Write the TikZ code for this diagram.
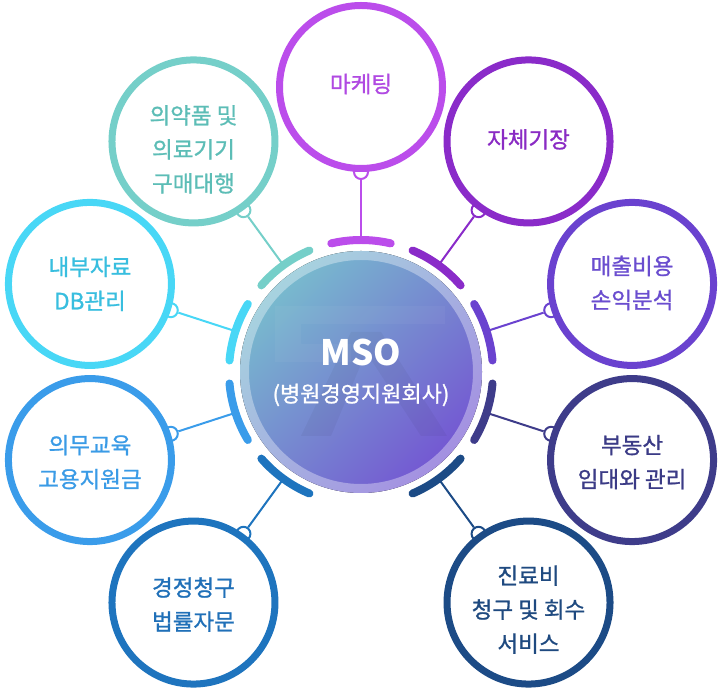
\documentclass[tikz,border=0pt]{standalone}
\usepackage{fontspec}
\newfontfamily\kr[FakeBold=1.0]{Noto Sans CJK KR}
\newfontfamily\krb{Noto Sans CJK KR}
\usetikzlibrary{calc}
\definecolor{cA}{HTML}{BB4DEB}\definecolor{tA}{HTML}{B049E2}
\definecolor{cB}{HTML}{8A2BC9}\definecolor{tB}{HTML}{8A2BC4}
\definecolor{cC}{HTML}{6A42CF}\definecolor{tC}{HTML}{6A4DCF}
\definecolor{cD}{HTML}{3E3C8A}\definecolor{tD}{HTML}{3B3B86}
\definecolor{cE}{HTML}{1C4B86}\definecolor{tE}{HTML}{1F4A80}
\definecolor{cF}{HTML}{1E74BE}\definecolor{tF}{HTML}{2070B8}
\definecolor{cG}{HTML}{3A9CEA}\definecolor{tG}{HTML}{3A9BE6}
\definecolor{cH}{HTML}{48D7F6}\definecolor{tH}{HTML}{38BEDF}
\definecolor{cI}{HTML}{75CFC9}\definecolor{tI}{HTML}{5CBDB6}
\definecolor{dTL}{HTML}{78BCCE}
\definecolor{dBR}{HTML}{7456D2}
\tikzset{
  outercirc/.style={circle, draw, fill=white, line width=7pt, minimum size=163pt, inner sep=0pt},
  lbl/.style={align=center, inner sep=0pt, font=\kr\fontsize{22.5}{34}\selectfont},
  knob/.style={circle, draw, fill=white, line width=2pt, minimum size=14pt, inner sep=0pt},
  link/.style={line width=2pt},
  ringarc/.style={line width=8pt, line cap=round},
}
\begin{document}
\begin{tikzpicture}[x=1pt,y=1pt]
\useasboundingbox (0,0) rectangle (720,693);
\coordinate (C) at (361,321);
\foreach \ang/\col/\tcol/\nm/\txt/\dy in {
  90/cA/tA/m1/{마케팅}/3,
  54/cB/tB/m2/{자체기장}/2,
  18/cC/tC/m3/{매출비용\\손익분석}/1,
  -18/cD/tD/m4/{부동산\\임대와 관리}/-2,
  -54/cE/tE/m5/{진료비\\청구 및 회수\\서비스}/-7,
  -126/cF/tF/m6/{경정청구\\법률자문}/-2,
  -162/cG/tG/m7/{의무교육\\고용지원금}/-2,
  162/cH/tH/m8/{내부자료\\DB관리}/0,
  126/cI/tI/m9/{의약품 및\\의료기기\\구매대행}/-8} {
  \coordinate (\nm a) at ($(C)+(\ang:133)$);
  \node[knob, draw=\col] (\nm k) at ($(C)+(\ang:200)$) {};
  \draw[link, \col] (\nm k) -- (\nm a);
  \node[outercirc, draw=\col] (\nm) at ($(C)+(\ang:285)$) {};
  \node[lbl, text=\tcol] (\nm t) at ($(\nm)+(0,\dy)$) {\txt};
  \draw[ringarc, \col] ($(C)+(\ang-13:132)$) arc[start angle=\ang-13, end angle=\ang+13, radius=132];
}
% central disk
\fill[top color=dTL, bottom color=dBR, shading angle=45] (C) circle[radius=121];
\begin{scope}
\clip (C) circle[radius=112];
\fill[white, opacity=0.04] ($(C)+(-86,66)$) -- ($(C)+(84,66)$) -- ($(C)+(84,48)$) -- ($(C)+(-60,48)$) -- ($(C)+(-60,28)$) -- ($(C)+(-10,28)$) -- ($(C)+(-10,10)$) -- ($(C)+(-86,10)$) -- cycle;
\fill[black, opacity=0.04] ($(C)+(-60,-64)$) -- ($(C)+(-10,40)$) -- ($(C)+(20,40)$) -- ($(C)+(86,-64)$) -- ($(C)+(60,-64)$) -- ($(C)+(5,20)$) -- ($(C)+(-30,-64)$) -- cycle;
\end{scope}
\draw[white, opacity=0.35, line width=9pt] (C) circle[radius=116.5];
\node[inner sep=0pt, text=white, font=\krb\bfseries\fontsize{35}{35}\selectfont] (mso) at (361,341) {MSO};
\node[inner sep=0pt, text=white, font=\kr\fontsize{22}{22}\selectfont] (sub) at (361,298) {(병원경영지원회사)};
\end{tikzpicture}
\end{document}
